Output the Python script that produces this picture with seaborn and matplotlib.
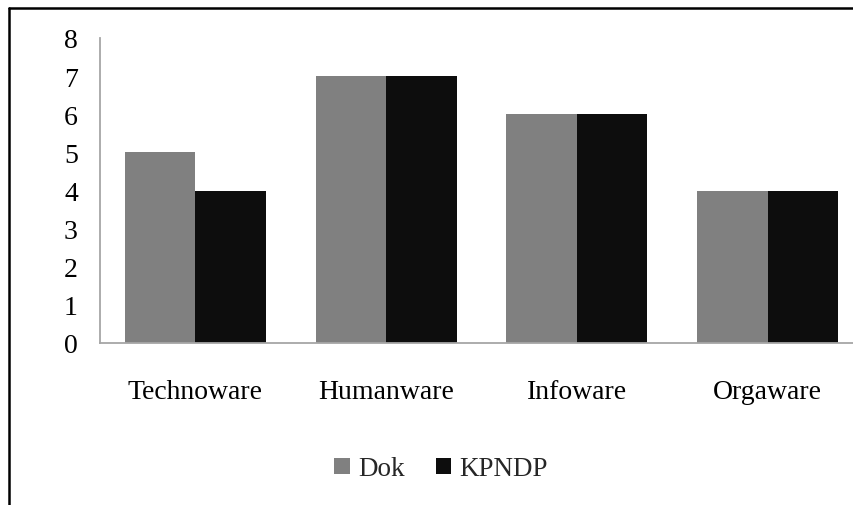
import matplotlib
matplotlib.use("Agg")
import matplotlib.pyplot as plt
from matplotlib.lines import Line2D
import seaborn as sns
import pandas as pd

categories = ["Technoware", "Humanware", "Infoware", "Orgaware"]
dok = [5, 7, 6, 4]
kpndp = [4, 7, 6, 4]
series_names = ["Dok", "KPNDP"]
yticks = [0, 1, 2, 3, 4, 5, 6, 7, 8]

df = pd.DataFrame({
    "category": categories * 2,
    "value": dok + kpndp,
    "series": [series_names[0]] * len(categories) + [series_names[1]] * len(categories),
})

sns.set_theme(style="white")
plt.rcParams["font.family"] = ["Liberation Serif", "DejaVu Serif"]

W, H = 854, 506
fig = plt.figure(figsize=(W / 100, H / 100), dpi=100)
ax = fig.add_axes([100 / W, 1 - 344 / H, 763 / W, 305 / H])

sns.barplot(data=df, x="category", y="value", hue="series", order=categories,
            hue_order=series_names, palette=["#808080", "#0d0d0d"],
            width=0.74, saturation=1, linewidth=0, ax=ax, legend=True)

ax.set_ylim(0, 8)
ax.set_xlim(-0.5, 3.5)
ax.set_yticks(yticks)
ax.set_yticklabels([str(v) for v in yticks])
ax.set_xlabel("")
ax.set_ylabel("")
ax.tick_params(axis="both", length=0, labelsize=20, colors="#000000")
ax.tick_params(axis="y", pad=16)
ax.tick_params(axis="x", pad=26)
for s in ["top", "right"]:
    ax.spines[s].set_visible(False)
for s in ["left", "bottom"]:
    ax.spines[s].set_color("#a6a6a6")
    ax.spines[s].set_linewidth(1.3)

leg = ax.legend(loc="center", bbox_to_anchor=(441 / W, 1 - 470 / H),
                bbox_transform=fig.transFigure, ncol=2, frameon=False,
                fontsize=19.5, handlelength=0.58, handleheight=0.58,
                handletextpad=0.3, columnspacing=1.15)

fig.add_artist(Line2D([9 / W, 1], [1 - 9 / H, 1 - 9 / H], transform=fig.transFigure,
                      color="black", linewidth=1.8))
fig.add_artist(Line2D([9 / W, 9 / W], [0, 1 - 9 / H], transform=fig.transFigure,
                      color="black", linewidth=1.8))

fig.savefig("out.png", dpi=100, facecolor="white")
